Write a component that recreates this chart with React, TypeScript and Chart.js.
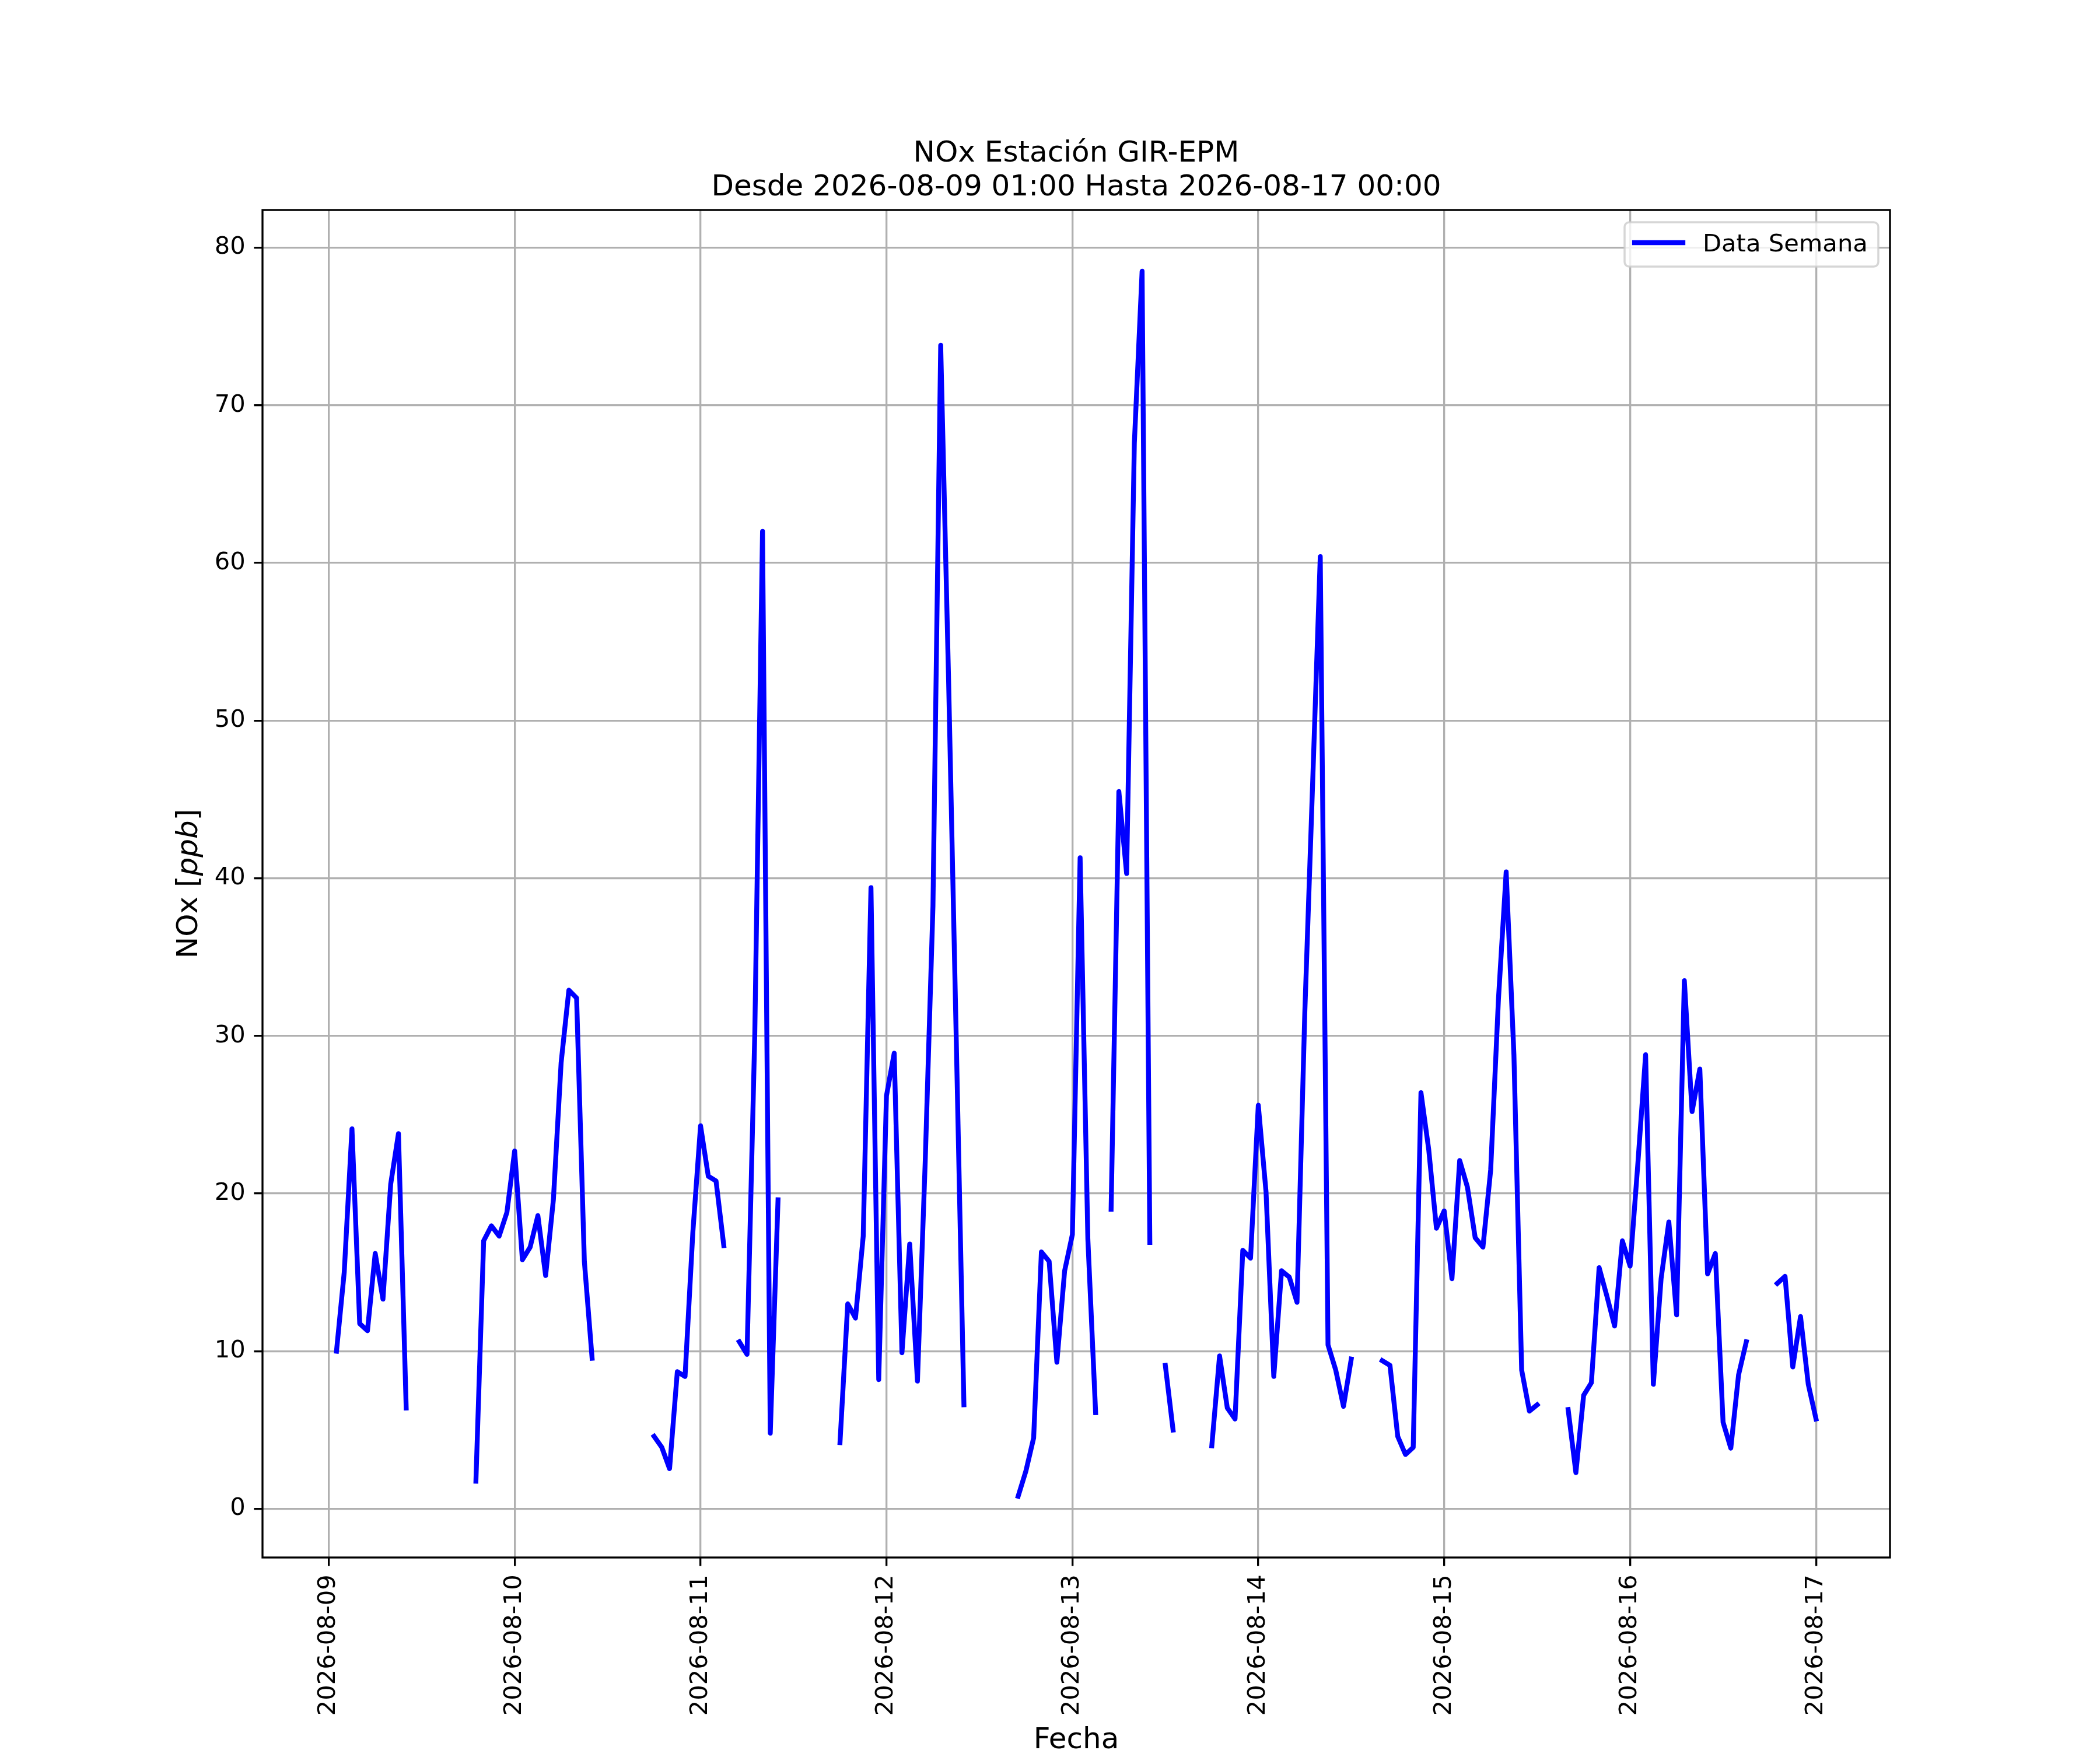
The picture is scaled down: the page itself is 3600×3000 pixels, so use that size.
import { useEffect, useRef } from 'react';
import { Chart, registerables } from 'chart.js';

Chart.register(...registerables);

const titleLines = ['NOx Estación GIR-EPM', 'Desde 2026-08-09 01:00 Hasta 2026-08-17 00:00'];
const xAxisLabel = 'Fecha';
const seriesLabel = 'Data Semana';

// x tick positions (hours since 2026-08-09 00:00) and their labels
const dayTickHours = [0, 24, 48, 72, 96, 120, 144, 168, 192];
const dayLabels = [
  '2026-08-09', '2026-08-10', '2026-08-11', '2026-08-12', '2026-08-13',
  '2026-08-14', '2026-08-15', '2026-08-16', '2026-08-17',
];
const yTicks = [0, 10, 20, 30, 40, 50, 60, 70, 80];

// first sample is 2026-08-09 01:00, one sample per hour
const firstHour = 1;
const noxValues: (number | null)[] = [
  // 09 01:00 .. 10 00:00
  10.0, 15.0, 24.1, 11.75, 11.3, 16.2, 13.3, 20.6, 23.8, 6.4,
  null, null, null, null, null, null, null, null,
  1.75, 17.0, 17.95, 17.3, 18.8, 22.7,
  // 10 01:00 .. 11 00:00
  15.8, 16.6, 18.6, 14.8, 19.6, 28.3, 32.9, 32.4, 15.7, 9.55,
  null, null, null, null, null, null, null,
  4.6, 3.9, 2.55, 8.7, 8.4, 17.5, 24.3,
  // 11 01:00 .. 12 00:00
  21.1, 20.8, 16.7, null, 10.6, 9.8, 30.1, 62.0, 4.8, 19.6,
  null, null, null, null, null, null, null,
  4.2, 13.0, 12.1, 17.3, 39.4, 8.2, 26.2,
  // 12 01:00 .. 13 00:00
  28.9, 9.9, 16.8, 8.1, 22.0, 38.2, 73.8, 53.0, 30.0, 6.6,
  null, null, null, null, null, null,
  0.8, 2.4, 4.5, 16.3, 15.7, 9.3, 15.1, 17.4,
  // 13 01:00 .. 14 00:00
  41.3, 17.1, 6.1, null, 19.0, 45.5, 40.3, 67.6, 78.5, 16.9,
  null, 9.1, 5.0, null, null, null, null,
  4.0, 9.7, 6.4, 5.7, 16.4, 15.9, 25.6,
  // 14 01:00 .. 15 00:00
  20.1, 8.4, 15.1, 14.7, 13.1, 31.4, 45.8, 60.4, 10.4, 8.8, 6.5, 9.5,
  null, null, null,
  9.4, 9.1, 4.6, 3.45, 3.9, 26.4, 22.8, 17.8, 18.9,
  // 15 01:00 .. 16 00:00
  14.6, 22.1, 20.4, 17.2, 16.6, 21.5, 32.3, 40.4, 28.8, 8.8, 6.2, 6.6,
  null, null, null,
  6.3, 2.3, 7.2, 8.0, 15.3, 13.5, 11.6, 17.0, 15.4,
  // 16 01:00 .. 17 00:00
  21.9, 28.8, 7.9, 14.6, 18.2, 12.3, 33.5, 25.2, 27.9, 14.9, 16.2, 5.5, 3.85, 8.5, 10.6,
  null, null, null,
  14.3, 14.75, 9.0, 12.2, 7.9, 5.7,
];

const FONT = '"DejaVu Sans", "Liberation Sans", sans-serif';
const LINE_WIDTH = 8.33;

// decorations drawn the way matplotlib does them
const decorPlugin = {
  id: 'decor',
  afterDraw(chart: Chart) {
    const { ctx, chartArea } = chart;
    const { left, right, top, bottom } = chartArea;
    ctx.save();

    // spines
    ctx.strokeStyle = '#000';
    ctx.lineWidth = 3.33;
    ctx.strokeRect(left, top, right - left, bottom - top);

    const cx = (left + right) / 2;
    ctx.fillStyle = '#000';
    ctx.textAlign = 'center';
    ctx.textBaseline = 'alphabetic';
    ctx.font = `50px ${FONT}`;
    ctx.fillText(titleLines[0], cx, 277);
    ctx.fillText(titleLines[1], cx, 335);

    // x axis label
    ctx.fillText(xAxisLabel, cx, 2997);

    // y axis label: NOx [ppb] with italic ppb
    const parts = [
      { text: 'NOx [', font: `50px ${FONT}` },
      { text: 'ppb', font: `italic 50px ${FONT}` },
      { text: ']', font: `50px ${FONT}` },
    ];
    let total = 0;
    const widths = parts.map(p => {
      ctx.font = p.font;
      const w = ctx.measureText(p.text).width;
      total += w;
      return w;
    });
    ctx.save();
    ctx.translate(338, (top + bottom) / 2);
    ctx.rotate(-Math.PI / 2);
    ctx.textAlign = 'left';
    let px = -total / 2;
    parts.forEach((p, i) => {
      ctx.font = p.font;
      ctx.fillText(p.text, px, 0);
      px += widths[i];
    });
    ctx.restore();

    // legend
    const lx = 2785, ly = 381, lw = 435, lh = 76;
    ctx.beginPath();
    ctx.roundRect(lx, ly, lw, lh, 8);
    ctx.fillStyle = 'rgba(255,255,255,0.8)';
    ctx.fill();
    ctx.strokeStyle = 'rgba(204,204,204,0.8)';
    ctx.lineWidth = 3.5;
    ctx.stroke();

    ctx.beginPath();
    ctx.moveTo(lx + 17, ly + 35);
    ctx.lineTo(lx + 17 + 83, ly + 35);
    ctx.strokeStyle = '#0000ff';
    ctx.lineWidth = LINE_WIDTH;
    ctx.lineCap = 'square';
    ctx.stroke();

    ctx.fillStyle = '#000';
    ctx.textAlign = 'left';
    ctx.font = `41.67px ${FONT}`;
    ctx.fillText(seriesLabel, lx + 134, ly + 50);

    ctx.restore();
  },
};

export default function App() {
  const canvasRef = useRef<HTMLCanvasElement>(null);

  useEffect(() => {
    if (!canvasRef.current) return;

    const points = noxValues.map((v, i) => ({ x: firstHour + i, y: v }));
    const lastHour = firstHour + noxValues.length - 1;
    const xPad = (lastHour - firstHour) * 0.05;
    const valid = noxValues.filter((v): v is number => v !== null);
    const yMinData = Math.min(...valid);
    const yMaxData = Math.max(...valid);
    const yPad = (yMaxData - yMinData) * 0.05;

    const tickFont = { family: FONT, size: 41.67 };
    const grid = {
      color: '#b0b0b0',
      lineWidth: 3.33,
      tickColor: '#000',
      tickLength: 14.6,
      tickWidth: 3.33,
    };

    const chart = new Chart(canvasRef.current, {
      type: 'line',
      data: {
        datasets: [{
          label: seriesLabel,
          data: points as any,
          borderColor: '#0000ff',
          backgroundColor: '#0000ff',
          borderWidth: LINE_WIDTH,
          pointRadius: 0,
          spanGaps: false,
          tension: 0,
          borderJoinStyle: 'round',
          borderCapStyle: 'square',
        }],
      },
      options: {
        animation: false,
        responsive: false,
        devicePixelRatio: 1,
        layout: { padding: { left: 0, right: 360, top: 360, bottom: 0 } },
        scales: {
          x: {
            type: 'linear',
            min: firstHour - xPad,
            max: lastHour + xPad,
            afterBuildTicks: (scale: any) => {
              scale.ticks = dayTickHours.map(v => ({ value: v }));
            },
            afterFit: (scale: any) => { scale.height = 330; },
            ticks: {
              autoSkip: false,
              minRotation: 90,
              maxRotation: 90,
              padding: 14.6,
              color: '#000',
              font: tickFont,
              callback: (_v: any, i: number) => dayLabels[i],
            },
            grid,
            border: { display: false },
          },
          y: {
            type: 'linear',
            min: yMinData - yPad,
            max: yMaxData + yPad,
            afterBuildTicks: (scale: any) => {
              scale.ticks = yTicks.map(v => ({ value: v }));
            },
            afterFit: (scale: any) => { scale.width = 450; },
            ticks: {
              padding: 14.6,
              color: '#000',
              font: tickFont,
              callback: (v: any) => String(v),
            },
            grid,
            border: { display: false },
          },
        },
        plugins: {
          legend: { display: false },
          title: { display: false },
          tooltip: { enabled: false },
        },
      },
      plugins: [decorPlugin],
    });

    return () => chart.destroy();
  }, []);

  return (
    <div style={{ position: 'absolute', left: 0, top: 0, width: 3600, height: 3000, background: '#fff' }}>
      <canvas ref={canvasRef} width={3600} height={3000} style={{ display: 'block', width: 3600, height: 3000 }} />
    </div>
  );
}
